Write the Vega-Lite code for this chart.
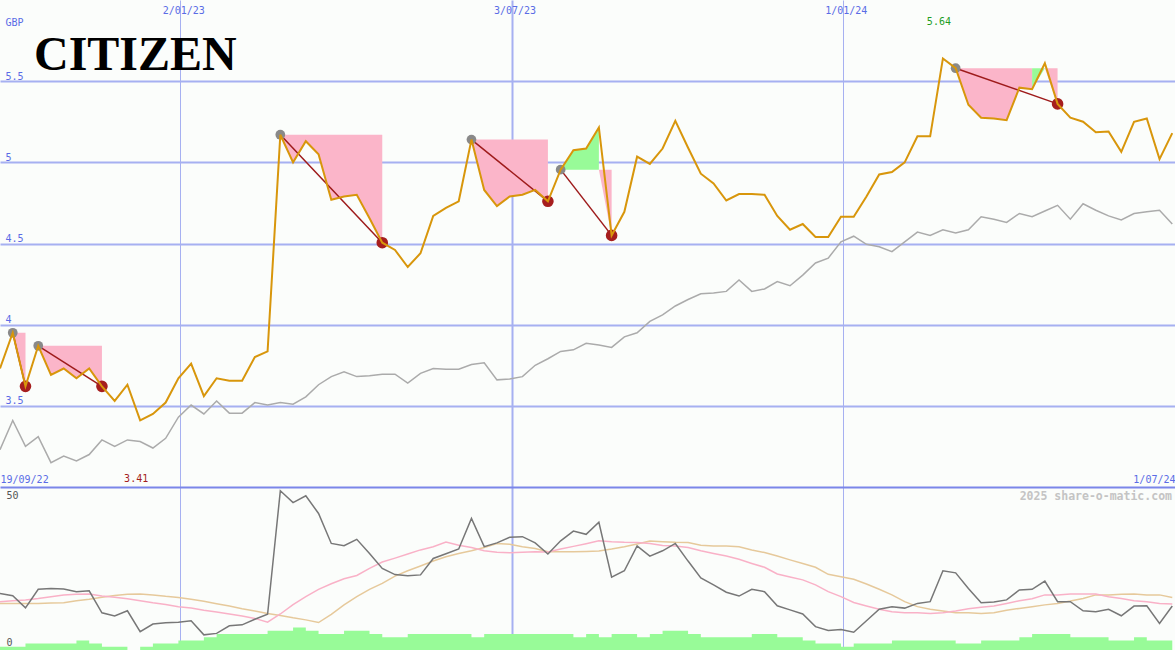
{
  "$schema": "https://vega.github.io/schema/vega-lite/v6.json",
  "background": "#fbfdfb",
  "padding": 0,
  "spacing": 0,
  "bounds": "flush",
  "config": {"view": {"stroke": null}, "concat": {"spacing": 0}},
  "datasets": {
    "weeks": [
      {"d":"2022-09-25","p":3.73,"r":3.23,"o":16.7,"m1":13.9,"m2":13.3,"v":1},
      {"d":"2022-10-02","p":3.95,"r":3.41,"o":15.9,"m1":14.2,"m2":13.3,"v":1},
      {"d":"2022-10-09","p":3.62,"r":3.25,"o":11.8,"m1":14.5,"m2":13.3,"v":2},
      {"d":"2022-10-16","p":3.87,"r":3.31,"o":18.1,"m1":15.0,"m2":13.3,"v":2},
      {"d":"2022-10-23","p":3.69,"r":3.15,"o":18.4,"m1":15.6,"m2":13.4,"v":2},
      {"d":"2022-10-30","p":3.73,"r":3.19,"o":18.2,"m1":16.2,"m2":13.5,"v":2},
      {"d":"2022-11-06","p":3.67,"r":3.16,"o":17.3,"m1":16.4,"m2":14.2,"v":3},
      {"d":"2022-11-13","p":3.73,"r":3.20,"o":17.6,"m1":16.5,"m2":14.7,"v":2},
      {"d":"2022-11-20","p":3.62,"r":3.29,"o":10.1,"m1":15.8,"m2":15.4,"v":1},
      {"d":"2022-11-27","p":3.53,"r":3.25,"o":9.0,"m1":15.4,"m2":16.0,"v":1},
      {"d":"2022-12-04","p":3.63,"r":3.29,"o":10.8,"m1":14.9,"m2":16.4,"v":0},
      {"d":"2022-12-11","p":3.41,"r":3.28,"o":3.7,"m1":14.2,"m2":16.5,"v":1},
      {"d":"2022-12-18","p":3.45,"r":3.24,"o":6.3,"m1":13.5,"m2":16.2,"v":2},
      {"d":"2022-12-25","p":3.52,"r":3.30,"o":6.7,"m1":12.9,"m2":15.7,"v":2},
      {"d":"2023-01-01","p":3.67,"r":3.43,"o":6.9,"m1":12.2,"m2":15.3,"v":3},
      {"d":"2023-01-08","p":3.76,"r":3.505,"o":7.4,"m1":11.7,"m2":14.7,"v":3},
      {"d":"2023-01-15","p":3.56,"r":3.45,"o":2.6,"m1":11.0,"m2":14.0,"v":4},
      {"d":"2023-01-22","p":3.67,"r":3.53,"o":3.1,"m1":10.4,"m2":13.2,"v":5},
      {"d":"2023-01-29","p":3.655,"r":3.455,"o":5.7,"m1":9.7,"m2":12.4,"v":5},
      {"d":"2023-02-05","p":3.655,"r":3.455,"o":6.0,"m1":9.0,"m2":11.5,"v":5},
      {"d":"2023-02-12","p":3.80,"r":3.52,"o":7.9,"m1":8.2,"m2":10.7,"v":5},
      {"d":"2023-02-19","p":3.835,"r":3.505,"o":9.6,"m1":6.9,"m2":9.9,"v":6},
      {"d":"2023-02-26","p":5.17,"r":3.52,"o":51.6,"m1":9.7,"m2":9.2,"v":6},
      {"d":"2023-03-05","p":5.00,"r":3.51,"o":47.6,"m1":12.9,"m2":8.4,"v":7},
      {"d":"2023-03-12","p":5.13,"r":3.555,"o":49.9,"m1":15.6,"m2":7.7,"v":6},
      {"d":"2023-03-19","p":5.05,"r":3.63,"o":43.9,"m1":18.1,"m2":6.8,"v":5},
      {"d":"2023-03-26","p":4.77,"r":3.68,"o":33.7,"m1":20.0,"m2":9.6,"v":5},
      {"d":"2023-04-02","p":4.79,"r":3.71,"o":32.9,"m1":21.7,"m2":12.8,"v":6},
      {"d":"2023-04-09","p":4.80,"r":3.68,"o":35.1,"m1":22.8,"m2":15.6,"v":6},
      {"d":"2023-04-16","p":4.655,"r":3.685,"o":30.3,"m1":25.2,"m2":18.1,"v":5},
      {"d":"2023-04-23","p":4.505,"r":3.695,"o":25.2,"m1":27.4,"m2":20.1,"v":4},
      {"d":"2023-04-30","p":4.46,"r":3.695,"o":23.1,"m1":28.7,"m2":22.6,"v":4},
      {"d":"2023-05-07","p":4.355,"r":3.64,"o":22.7,"m1":30.1,"m2":24.4,"v":5},
      {"d":"2023-05-14","p":4.44,"r":3.70,"o":23.0,"m1":31.5,"m2":26.0,"v":5},
      {"d":"2023-05-21","p":4.67,"r":3.73,"o":28.6,"m1":32.6,"m2":27.7,"v":5},
      {"d":"2023-05-28","p":4.72,"r":3.725,"o":30.2,"m1":34.2,"m2":29.2,"v":5},
      {"d":"2023-06-04","p":4.76,"r":3.725,"o":31.8,"m1":33.1,"m2":30.3,"v":5},
      {"d":"2023-06-11","p":5.14,"r":3.755,"o":42.2,"m1":32.3,"m2":31.2,"v":4},
      {"d":"2023-06-18","p":4.83,"r":3.765,"o":32.6,"m1":31.2,"m2":32.3,"v":5},
      {"d":"2023-06-25","p":4.73,"r":3.66,"o":33.9,"m1":30.7,"m2":33.7,"v":5},
      {"d":"2023-07-02","p":4.79,"r":3.665,"o":35.8,"m1":30.5,"m2":33.4,"v":5},
      {"d":"2023-07-09","p":4.80,"r":3.68,"o":36.0,"m1":30.7,"m2":32.6,"v":5},
      {"d":"2023-07-16","p":4.83,"r":3.75,"o":33.9,"m1":30.9,"m2":32.0,"v":5},
      {"d":"2023-07-23","p":4.76,"r":3.79,"o":30.1,"m1":30.8,"m2":30.9,"v":5},
      {"d":"2023-07-30","p":4.955,"r":3.835,"o":34.6,"m1":31.8,"m2":30.9,"v":5},
      {"d":"2023-08-06","p":5.075,"r":3.845,"o":37.9,"m1":32.7,"m2":30.9,"v":4},
      {"d":"2023-08-13","p":5.085,"r":3.885,"o":36.8,"m1":33.6,"m2":31.0,"v":5},
      {"d":"2023-08-20","p":5.215,"r":3.875,"o":40.9,"m1":34.6,"m2":31.1,"v":4},
      {"d":"2023-08-27","p":4.55,"r":3.86,"o":22.2,"m1":34.3,"m2":31.8,"v":5},
      {"d":"2023-09-03","p":4.695,"r":3.925,"o":24.4,"m1":34.1,"m2":32.6,"v":5},
      {"d":"2023-09-10","p":5.035,"r":3.95,"o":32.9,"m1":34.0,"m2":33.5,"v":4},
      {"d":"2023-09-17","p":4.99,"r":4.02,"o":29.4,"m1":33.7,"m2":34.5,"v":5},
      {"d":"2023-09-24","p":5.085,"r":4.06,"o":31.2,"m1":33.0,"m2":34.3,"v":6},
      {"d":"2023-10-01","p":5.255,"r":4.115,"o":33.7,"m1":32.8,"m2":34.1,"v":6},
      {"d":"2023-10-08","p":5.09,"r":4.155,"o":27.7,"m1":32.3,"m2":34.0,"v":5},
      {"d":"2023-10-15","p":4.93,"r":4.19,"o":22.0,"m1":31.2,"m2":33.1,"v":4},
      {"d":"2023-10-22","p":4.87,"r":4.195,"o":19.6,"m1":30.3,"m2":32.8,"v":4},
      {"d":"2023-10-29","p":4.765,"r":4.205,"o":17.1,"m1":29.4,"m2":32.8,"v":4},
      {"d":"2023-11-05","p":4.805,"r":4.275,"o":15.8,"m1":28.3,"m2":32.6,"v":4},
      {"d":"2023-11-12","p":4.805,"r":4.205,"o":18.1,"m1":26.9,"m2":31.5,"v":5},
      {"d":"2023-11-19","p":4.80,"r":4.22,"o":17.3,"m1":25.6,"m2":30.6,"v":5},
      {"d":"2023-11-26","p":4.67,"r":4.265,"o":12.5,"m1":23.3,"m2":29.4,"v":4},
      {"d":"2023-12-03","p":4.585,"r":4.24,"o":11.1,"m1":22.3,"m2":28.1,"v":4},
      {"d":"2023-12-10","p":4.62,"r":4.305,"o":9.7,"m1":21.3,"m2":26.9,"v":3},
      {"d":"2023-12-17","p":4.54,"r":4.38,"o":5.4,"m1":19.6,"m2":25.6,"v":2},
      {"d":"2023-12-24","p":4.54,"r":4.41,"o":4.1,"m1":17.3,"m2":23.2,"v":2},
      {"d":"2023-12-31","p":4.665,"r":4.51,"o":4.4,"m1":15.6,"m2":22.4,"v":1},
      {"d":"2024-01-07","p":4.665,"r":4.545,"o":3.5,"m1":13.6,"m2":21.5,"v":2},
      {"d":"2024-01-14","p":4.79,"r":4.495,"o":7.4,"m1":12.4,"m2":19.9,"v":2},
      {"d":"2024-01-21","p":4.925,"r":4.48,"o":11.3,"m1":11.3,"m2":18.1,"v":2},
      {"d":"2024-01-28","p":4.94,"r":4.45,"o":12.2,"m1":10.5,"m2":16.2,"v":3},
      {"d":"2024-02-04","p":5.00,"r":4.51,"o":11.7,"m1":10.1,"m2":13.9,"v":3},
      {"d":"2024-02-11","p":5.16,"r":4.57,"o":13.3,"m1":10.1,"m2":12.2,"v":3},
      {"d":"2024-02-18","p":5.16,"r":4.55,"o":13.9,"m1":9.9,"m2":11.3,"v":3},
      {"d":"2024-02-25","p":5.64,"r":4.585,"o":24.4,"m1":10.1,"m2":10.7,"v":3},
      {"d":"2024-03-03","p":5.58,"r":4.565,"o":23.7,"m1":10.7,"m2":10.1,"v":2},
      {"d":"2024-03-10","p":5.355,"r":4.585,"o":18.4,"m1":11.5,"m2":10.1,"v":2},
      {"d":"2024-03-17","p":5.275,"r":4.665,"o":13.5,"m1":12.0,"m2":9.9,"v":3},
      {"d":"2024-03-24","p":5.27,"r":4.65,"o":13.8,"m1":12.4,"m2":10.1,"v":3},
      {"d":"2024-03-31","p":5.26,"r":4.63,"o":14.5,"m1":13.3,"m2":11.0,"v":3},
      {"d":"2024-04-07","p":5.46,"r":4.685,"o":17.9,"m1":14.2,"m2":11.6,"v":4},
      {"d":"2024-04-14","p":5.45,"r":4.665,"o":18.1,"m1":14.9,"m2":12.2,"v":5},
      {"d":"2024-04-21","p":5.61,"r":4.70,"o":20.9,"m1":16.2,"m2":12.8,"v":5},
      {"d":"2024-04-28","p":5.36,"r":4.735,"o":13.9,"m1":16.2,"m2":13.3,"v":5},
      {"d":"2024-05-05","p":5.275,"r":4.65,"o":13.9,"m1":16.5,"m2":14.1,"v":4},
      {"d":"2024-05-12","p":5.25,"r":4.745,"o":10.8,"m1":16.5,"m2":15.0,"v":4},
      {"d":"2024-05-19","p":5.185,"r":4.705,"o":10.5,"m1":16.5,"m2":16.2,"v":4},
      {"d":"2024-05-26","p":5.19,"r":4.67,"o":11.3,"m1":15.6,"m2":16.2,"v":3},
      {"d":"2024-06-02","p":5.065,"r":4.645,"o":9.1,"m1":15.0,"m2":16.4,"v":3},
      {"d":"2024-06-09","p":5.25,"r":4.685,"o":12.4,"m1":14.2,"m2":16.5,"v":4},
      {"d":"2024-06-16","p":5.27,"r":4.695,"o":12.5,"m1":13.9,"m2":16.2,"v":3},
      {"d":"2024-06-23","p":5.02,"r":4.705,"o":6.5,"m1":13.3,"m2":16.2,"v":3},
      {"d":"2024-06-30","p":5.18,"r":4.62,"o":12.4,"m1":13.1,"m2":15.3,"v":3}
    ],
    "shade": [
      {"k":"pink","ep":"a","d":"2022-10-02","lo":3.95,"hi":3.95},
      {"k":"pink","ep":"a","d":"2022-10-09","lo":3.62,"hi":3.95},
      {"k":"pink","ep":"b","d":"2022-10-16","lo":3.87,"hi":3.87},
      {"k":"pink","ep":"b","d":"2022-10-23","lo":3.69,"hi":3.87},
      {"k":"pink","ep":"b","d":"2022-10-30","lo":3.73,"hi":3.87},
      {"k":"pink","ep":"b","d":"2022-11-06","lo":3.67,"hi":3.87},
      {"k":"pink","ep":"b","d":"2022-11-13","lo":3.73,"hi":3.87},
      {"k":"pink","ep":"b","d":"2022-11-20","lo":3.62,"hi":3.87},
      {"k":"pink","ep":"c","d":"2023-02-26","lo":5.17,"hi":5.17},
      {"k":"pink","ep":"c","d":"2023-03-05","lo":5.00,"hi":5.17},
      {"k":"pink","ep":"c","d":"2023-03-12","lo":5.13,"hi":5.17},
      {"k":"pink","ep":"c","d":"2023-03-19","lo":5.05,"hi":5.17},
      {"k":"pink","ep":"c","d":"2023-03-26","lo":4.77,"hi":5.17},
      {"k":"pink","ep":"c","d":"2023-04-02","lo":4.79,"hi":5.17},
      {"k":"pink","ep":"c","d":"2023-04-09","lo":4.80,"hi":5.17},
      {"k":"pink","ep":"c","d":"2023-04-16","lo":4.655,"hi":5.17},
      {"k":"pink","ep":"c","d":"2023-04-23","lo":4.505,"hi":5.17},
      {"k":"pink","ep":"d","d":"2023-06-11","lo":5.14,"hi":5.14},
      {"k":"pink","ep":"d","d":"2023-06-18","lo":4.83,"hi":5.14},
      {"k":"pink","ep":"d","d":"2023-06-25","lo":4.73,"hi":5.14},
      {"k":"pink","ep":"d","d":"2023-07-02","lo":4.79,"hi":5.14},
      {"k":"pink","ep":"d","d":"2023-07-09","lo":4.80,"hi":5.14},
      {"k":"pink","ep":"d","d":"2023-07-16","lo":4.83,"hi":5.14},
      {"k":"pink","ep":"d","d":"2023-07-23","lo":4.76,"hi":5.14},
      {"k":"green","ep":"e1","d":"2023-07-30","lo":4.955,"hi":4.955},
      {"k":"green","ep":"e1","d":"2023-08-06","lo":4.955,"hi":5.075},
      {"k":"green","ep":"e1","d":"2023-08-13","lo":4.955,"hi":5.085},
      {"k":"green","ep":"e1","d":"2023-08-20","lo":4.955,"hi":5.215},
      {"k":"pink","ep":"e2","d":"2023-08-20","lo":4.955,"hi":4.955},
      {"k":"pink","ep":"e2","d":"2023-08-27","lo":4.55,"hi":4.955},
      {"k":"pink","ep":"f1","d":"2024-03-03","lo":5.58,"hi":5.58},
      {"k":"pink","ep":"f1","d":"2024-03-10","lo":5.355,"hi":5.58},
      {"k":"pink","ep":"f1","d":"2024-03-17","lo":5.275,"hi":5.58},
      {"k":"pink","ep":"f1","d":"2024-03-24","lo":5.27,"hi":5.58},
      {"k":"pink","ep":"f1","d":"2024-03-31","lo":5.26,"hi":5.58},
      {"k":"pink","ep":"f1","d":"2024-04-07","lo":5.46,"hi":5.58},
      {"k":"pink","ep":"f1","d":"2024-04-14","lo":5.45,"hi":5.58},
      {"k":"green","ep":"f2","d":"2024-04-14","lo":5.45,"hi":5.58},
      {"k":"green","ep":"f2","d":"2024-04-21","lo":5.58,"hi":5.58},
      {"k":"pink","ep":"f3","d":"2024-04-21","lo":5.58,"hi":5.58},
      {"k":"pink","ep":"f3","d":"2024-04-28","lo":5.36,"hi":5.58}
    ],
    "dd": [
      {"ep":"a","role":"peak","d":"2022-10-02","p":3.95},
      {"ep":"a","role":"trough","d":"2022-10-09","p":3.62},
      {"ep":"b","role":"peak","d":"2022-10-16","p":3.87},
      {"ep":"b","role":"trough","d":"2022-11-20","p":3.62},
      {"ep":"c","role":"peak","d":"2023-02-26","p":5.17},
      {"ep":"c","role":"trough","d":"2023-04-23","p":4.505},
      {"ep":"d","role":"peak","d":"2023-06-11","p":5.14},
      {"ep":"d","role":"trough","d":"2023-07-23","p":4.76},
      {"ep":"e","role":"peak","d":"2023-07-30","p":4.955},
      {"ep":"e","role":"trough","d":"2023-08-27","p":4.55},
      {"ep":"f","role":"peak","d":"2024-03-03","p":5.58},
      {"ep":"f","role":"trough","d":"2024-04-28","p":5.36}
    ],
    "ext": [
      {"kind":"min","d":"2022-12-11","label":"3.41"},
      {"kind":"max","d":"2024-02-25","label":"5.64"}
    ]
  },
  "vconcat": [
    {
      "width": 1175,
      "height": 487,
      "resolve": {"axis": {"x": "independent", "y": "independent"}},
      "layer": [
        {
          "data": {"name": "shade"},
          "transform": [{"filter": "datum.k == 'pink'"}],
          "mark": {"type": "area", "color": "#fbb5c9", "opacity": 1, "clip": true},
          "encoding": {
            "x": {"field": "d", "type": "temporal",
              "scale": {"type": "utc", "domain": [{"year": 2022, "month": 9, "date": 25, "utc": true}, {"year": 2024, "month": 7, "date": 1, "hours": 12, "utc": true}]},
              "axis": {"orient": "top", "title": null, "zindex": 0,
                "values": [{"year": 2023, "month": 1, "date": 2, "utc": true}, {"year": 2023, "month": 7, "date": 3, "utc": true}, {"year": 2024, "month": 1, "date": 1, "utc": true}],
                "labelExpr": "utcFormat(datum.value, '%-d/%m/%y')",
                "grid": true, "gridColor": "#a6b0f1",
                "gridWidth": {"condition": {"test": "utcmonth(datum.value) == 6", "value": 2}, "value": 1},
                "domain": false, "ticks": false, "labelPadding": -13, "labelBaseline": "alphabetic", "labelAlign": "center", "labelOffset": 3,
                "labelColor": "#5a6ce6", "labelFont": "DejaVu Sans Mono", "labelFontSize": 10}},
            "y": {"field": "lo", "type": "quantitative",
              "scale": {"domain": [3, 6], "nice": false, "zero": false},
              "axis": {"orient": "left", "zindex": 0, "values": [3.5, 4, 4.5, 5, 5.5], "format": "~g",
                "grid": true, "gridColor": "#a6b0f1", "gridWidth": 2, "domain": false, "ticks": false,
                "labelAlign": "left", "labelPadding": -5, "labelBaseline": "alphabetic", "labelOffset": -2,
                "labelColor": "#5a6ce6", "labelFont": "DejaVu Sans Mono", "labelFontSize": 10,
                "title": "GBP", "titleAngle": 0, "titleX": 5, "titleY": 25, "titleAlign": "left", "titleBaseline": "alphabetic",
                "titleColor": "#5a6ce6", "titleFont": "DejaVu Sans Mono", "titleFontSize": 10, "titleFontWeight": "normal"}},
            "y2": {"field": "hi"},
            "detail": {"field": "ep"}
          }
        },
        {
          "data": {"name": "shade"},
          "transform": [{"filter": "datum.k == 'green'"}],
          "mark": {"type": "area", "color": "#98fb98", "opacity": 1, "clip": true},
          "encoding": {
            "x": {"field": "d", "type": "temporal", "axis": null},
            "y": {"field": "lo", "type": "quantitative", "axis": null},
            "y2": {"field": "hi"},
            "detail": {"field": "ep"}
          }
        },
        {
          "data": {"name": "weeks"},
          "mark": {"type": "line", "color": "#ababab", "strokeWidth": 1.5, "clip": true},
          "encoding": {
            "x": {"field": "d", "type": "temporal", "axis": null},
            "y": {"field": "r", "type": "quantitative", "axis": null}
          }
        },
        {
          "data": {"name": "dd"},
          "mark": {"type": "line", "color": "#9e1b1b", "strokeWidth": 1.5, "clip": true},
          "encoding": {
            "x": {"field": "d", "type": "temporal", "axis": null},
            "y": {"field": "p", "type": "quantitative", "axis": null},
            "detail": {"field": "ep"}
          }
        },
        {
          "data": {"name": "dd"},
          "transform": [{"filter": "datum.role == 'peak'"}],
          "mark": {"type": "circle", "color": "#898989", "opacity": 1, "size": 95, "clip": true},
          "encoding": {
            "x": {"field": "d", "type": "temporal", "axis": null},
            "y": {"field": "p", "type": "quantitative", "axis": null}
          }
        },
        {
          "data": {"name": "dd"},
          "transform": [{"filter": "datum.role == 'trough'"}],
          "mark": {"type": "circle", "color": "#a61e1e", "opacity": 1, "size": 135, "clip": true},
          "encoding": {
            "x": {"field": "d", "type": "temporal", "axis": null},
            "y": {"field": "p", "type": "quantitative", "axis": null}
          }
        },
        {
          "data": {"name": "weeks"},
          "mark": {"type": "line", "color": "#d8960b", "strokeWidth": 2, "clip": true},
          "encoding": {
            "x": {"field": "d", "type": "temporal", "axis": null},
            "y": {"field": "p", "type": "quantitative", "axis": null}
          }
        },
        {
          "data": {"name": "ext"},
          "transform": [{"filter": "datum.kind == 'min'"}],
          "mark": {"type": "text", "align": "center", "baseline": "alphabetic", "dx": -4, "font": "DejaVu Sans Mono", "fontSize": 10, "color": "#a31d1d"},
          "encoding": {
            "x": {"field": "d", "type": "temporal", "axis": null},
            "y": {"datum": 3.028, "type": "quantitative", "axis": null},
            "text": {"field": "label"}
          }
        },
        {
          "data": {"name": "ext"},
          "transform": [{"filter": "datum.kind == 'max'"}],
          "mark": {"type": "text", "align": "center", "baseline": "alphabetic", "dx": -4, "font": "DejaVu Sans Mono", "fontSize": 10, "color": "#1f9d1f"},
          "encoding": {
            "x": {"field": "d", "type": "temporal", "axis": null},
            "y": {"datum": 5.846, "type": "quantitative", "axis": null},
            "text": {"field": "label"}
          }
        },
        {
          "data": {"values": [{"name": "CITIZEN"}]},
          "mark": {"type": "text", "align": "left", "baseline": "alphabetic", "dx": 34, "font": "Liberation Serif", "fontSize": 48, "fontWeight": "bold", "color": "#000000"},
          "encoding": {
            "x": {"datum": {"year": 2022, "month": 9, "date": 25, "utc": true}, "type": "temporal", "axis": null},
            "y": {"datum": 5.5688, "type": "quantitative", "axis": null},
            "text": {"field": "name"}
          }
        }
      ]
    },
    {
      "width": 1175,
      "height": 163,
      "resolve": {"scale": {"y": "independent"}, "axis": {"x": "independent", "y": "independent"}},
      "layer": [
        {
          "data": {"name": "weeks"},
          "mark": {"type": "area", "interpolate": "step-after", "color": "#98fb98", "opacity": 1, "clip": true},
          "encoding": {
            "x": {"field": "d", "type": "temporal",
              "scale": {"type": "utc", "domain": [{"year": 2022, "month": 9, "date": 25, "utc": true}, {"year": 2024, "month": 7, "date": 1, "hours": 12, "utc": true}]},
              "axis": {"orient": "top", "title": null, "zindex": 0,
                "values": [{"year": 2022, "month": 9, "date": 25, "utc": true}, {"year": 2023, "month": 1, "date": 2, "utc": true}, {"year": 2023, "month": 7, "date": 3, "utc": true}, {"year": 2024, "month": 1, "date": 1, "utc": true}, {"year": 2024, "month": 7, "date": 1, "hours": 12, "utc": true}],
                "labelExpr": "datum.value < utc(2022, 11, 1) ? '19/09/22' : (datum.value > utc(2024, 5, 1) ? '1/07/24' : '')",
                "labelAlign": {"condition": {"test": "datum.value < utc(2022, 11, 1)", "value": "left"}, "value": "right"},
                "labelFlush": false, "labelOverlap": false, "labelPadding": 4.5, "labelBaseline": "alphabetic",
                "labelColor": "#5a6ce6", "labelFont": "DejaVu Sans Mono", "labelFontSize": 10,
                "ticks": false, "domain": true, "domainColor": "#7b86e9", "domainWidth": 2,
                "grid": true, "gridColor": "#a6b0f1",
                "gridOpacity": {"condition": {"test": "datum.value < utc(2022, 11, 1) || datum.value > utc(2024, 5, 1)", "value": 0}, "value": 1},
                "gridWidth": {"condition": {"test": "utcmonth(datum.value) == 6", "value": 2}, "value": 1}}},
            "y": {"field": "v", "type": "quantitative", "scale": {"domain": [0, 50.9], "nice": false, "zero": true}, "axis": null}
          }
        },
        {
          "resolve": {"axis": {"x": "independent", "y": "independent"}},
          "layer": [
            {
              "data": {"name": "weeks"},
              "mark": {"type": "line", "color": "#e6c99b", "strokeWidth": 1.5, "clip": true},
              "encoding": {
                "x": {"field": "d", "type": "temporal", "axis": null},
                "y": {"field": "m2", "type": "quantitative",
                  "scale": {"domain": [-2.55, 52.9], "nice": false, "zero": false},
                  "axis": {"orient": "left", "zindex": 0, "values": [0, 50], "title": null, "grid": false, "domain": false, "ticks": false,
                    "labelAlign": "left", "labelPadding": -6, "labelBaseline": "middle", "labelColor": "#555555",
                    "labelFont": "DejaVu Sans Mono", "labelFontSize": 10}}
              }
            },
            {
              "data": {"name": "weeks"},
              "mark": {"type": "line", "color": "#f9b1c7", "strokeWidth": 1.5, "clip": true},
              "encoding": {
                "x": {"field": "d", "type": "temporal", "axis": null},
                "y": {"field": "m1", "type": "quantitative", "axis": null}
              }
            },
            {
              "data": {"name": "weeks"},
              "mark": {"type": "line", "color": "#777777", "strokeWidth": 1.5, "clip": true},
              "encoding": {
                "x": {"field": "d", "type": "temporal", "axis": null},
                "y": {"field": "o", "type": "quantitative", "axis": null}
              }
            },
            {
              "data": {"values": [{"label": "2025 share-o-matic.com"}]},
              "mark": {"type": "text", "align": "right", "baseline": "alphabetic", "dx": -3, "font": "DejaVu Sans Mono", "fontSize": 11.5, "fontWeight": "bold", "color": "#c4c4c4"},
              "encoding": {
                "x": {"datum": {"year": 2024, "month": 7, "date": 1, "hours": 12, "utc": true}, "type": "temporal", "axis": null},
                "y": {"datum": 48.5, "type": "quantitative", "axis": null},
                "text": {"field": "label"}
              }
            }
          ]
        }
      ]
    }
  ]
}
